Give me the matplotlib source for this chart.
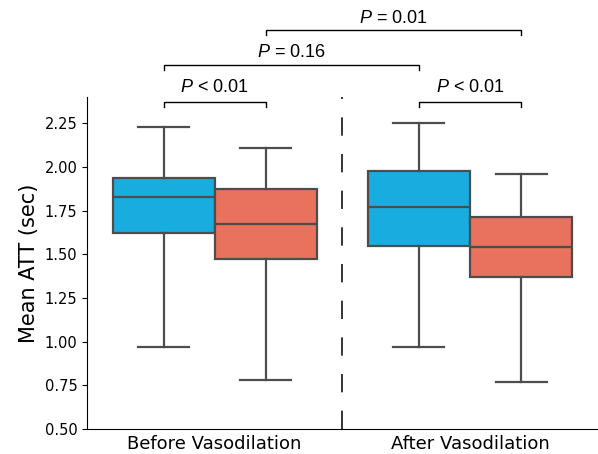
import numpy as np
import matplotlib
matplotlib.use("Agg")
import matplotlib.pyplot as plt

# Werte (Whisker unten, Q1, Median, Q3, Whisker oben)
groups = ["Before Vasodilation", "After Vasodilation"]
blue_stats = [
    [0.97, 1.62, 1.83, 1.94, 2.23],
    [0.97, 1.55, 1.77, 1.98, 2.25],
]
orange_stats = [
    [0.78, 1.475, 1.673, 1.877, 2.107],
    [0.77, 1.373, 1.542, 1.713, 1.96],
]

# Signifikanz-Klammern: (x links, x rechts, hoehe, text-hoehe, label)
brackets = [
    (-0.2, 0.2, 2.373, 2.430, "< 0.01"),
    (0.8, 1.2, 2.373, 2.430, "< 0.01"),
    (-0.2, 0.8, 2.586, 2.630, "= 0.16"),
    (0.2, 1.2, 2.786, 2.823, "= 0.01"),
]

blue = "#19ACDF"
orange = "#E8725D"
edge = "#4d4d4d"

plt.rcParams["mathtext.fontset"] = "custom"
plt.rcParams["mathtext.it"] = "Liberation Sans:italic"
plt.rcParams["mathtext.rm"] = "Liberation Sans"


def make_stats(vals):
    lo, q1, med, q3, hi = vals
    return {"whislo": lo, "q1": q1, "med": med, "q3": q3, "whishi": hi, "fliers": []}


fig = plt.figure(figsize=(5.98, 4.54), dpi=100)
ax = fig.add_axes([0.1455, 0.055, 0.854, 0.731])

x = np.arange(len(groups))
w = 0.4
for stats, offset, color in [(blue_stats, -0.2, blue), (orange_stats, 0.2, orange)]:
    ax.bxp(
        [make_stats(s) for s in stats],
        positions=x + offset,
        widths=w,
        capwidths=w / 2,
        patch_artist=True,
        showfliers=False,
        boxprops=dict(facecolor=color, edgecolor=edge, linewidth=1.6),
        medianprops=dict(color=edge, linewidth=1.6),
        whiskerprops=dict(color=edge, linewidth=1.6),
        capprops=dict(color=edge, linewidth=1.6),
        manage_ticks=False,
    )

# Trennlinie zwischen den Gruppen
ax.plot([0.5, 0.5], [0.5, 2.4], color="black", linewidth=1.1, linestyle=(0, (12, 12)))

# Klammern mit P-Werten
tick = 0.032
for x1, x2, yb, yt, lab in brackets:
    ax.plot([x1, x1, x2, x2], [yb - tick, yb, yb, yb - tick],
            color="black", linewidth=1.0, clip_on=False)
    ax.text((x1 + x2) / 2, yt, r"$P$ " + lab, ha="center", va="baseline",
            fontsize=13, family="Liberation Sans")

ax.set_xlim(-0.5, 1.5)
ax.set_ylim(0.5, 2.4)
ax.set_yticks(np.arange(0.5, 2.26, 0.25))
ax.set_xticks(x)
ax.set_xticklabels(groups, fontsize=13)
ax.tick_params(axis="x", length=0, pad=4)
ax.tick_params(axis="y", labelsize=10.5)
ax.set_ylabel("Mean ATT (sec)", fontsize=15)
ax.spines["top"].set_visible(False)
ax.spines["right"].set_visible(False)

fig.savefig("out.png", dpi=100)
